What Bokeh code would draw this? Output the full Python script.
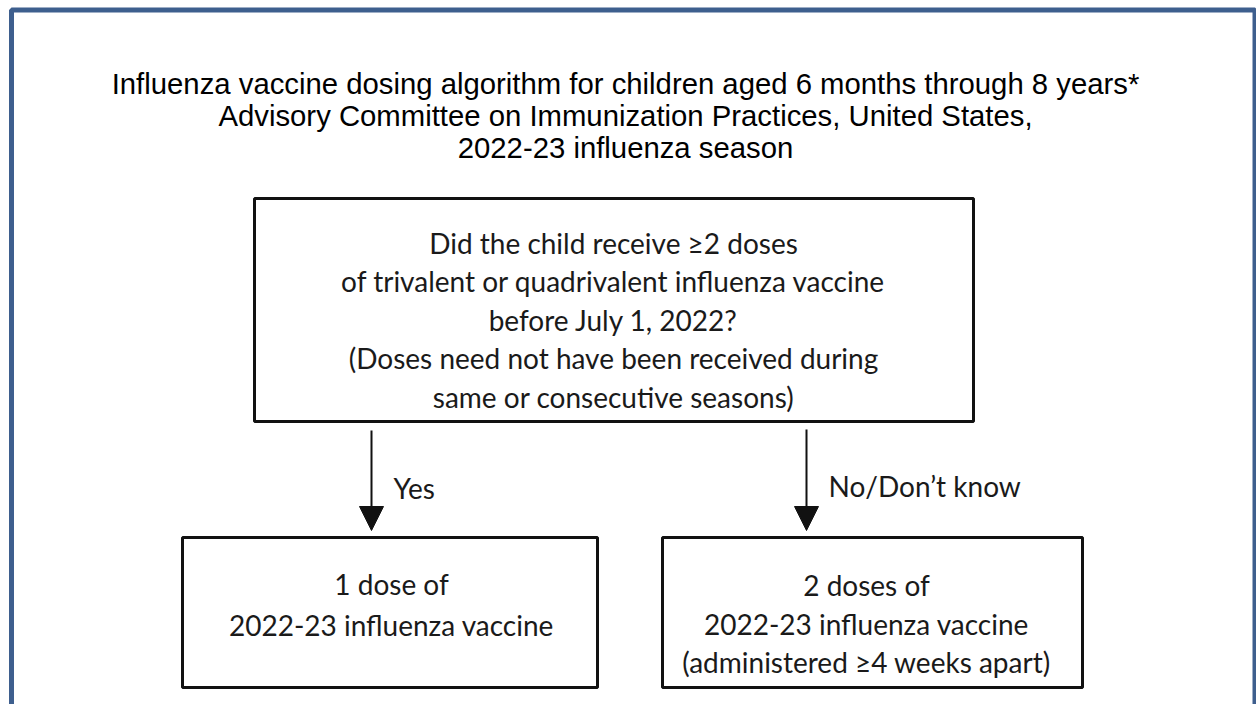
from bokeh.plotting import figure
from bokeh.models import Range1d, Arrow, NormalHead, ColumnDataSource
from bokeh.core.properties import value
from bokeh.embed import file_html
from bokeh.resources import INLINE

# ---- content ----
title_lines = [
    "Influenza vaccine dosing algorithm for children aged 6 months through 8 years*",
    "Advisory Committee on Immunization Practices, United States,",
    "2022-23 influenza season",
]
question_lines = [
    "Did the child receive \u22652 doses",
    "of trivalent or quadrivalent influenza vaccine",
    "before July 1, 2022?",
    "(Doses need not have been received during",
    "same or consecutive seasons)",
]
branch_labels = ["Yes", "No/Don\u2019t know"]
outcome_yes = ["1 dose of", "2022-23 influenza vaccine"]
outcome_no = ["2 doses of", "2022-23 influenza vaccine", "(administered \u22654 weeks apart)"]

W, H = 1256, 704
p = figure(width=W, height=H, output_backend="svg", toolbar_location=None,
           x_range=Range1d(0, W), y_range=Range1d(H, 0), min_border=0)
p.axis.visible = False
p.grid.visible = False
p.outline_line_color = None
p.background_fill_color = "white"
p.border_fill_color = "white"

# outer blue frame
p.quad(left=[11], right=[1254.5], top=[9.5], bottom=[740],
       fill_color=None, line_color="#3e5f8e", line_width=5)

# boxes
box_l = [254, 182, 662]
box_r = [973, 597, 1082]
box_t = [198, 537, 537]
box_b = [421, 687, 687]
p.quad(left=box_l, right=box_r, top=box_t, bottom=box_b,
       fill_color="white", line_color="#111111", line_width=3)

# arrows
for xa, y0, y1 in [(371, 430, 530), (806, 429, 530)]:
    p.add_layout(Arrow(end=NormalHead(size=24, fill_color="#111111", line_color="#111111", line_width=1),
                       x_start=xa, y_start=y0, x_end=xa, y_end=y1,
                       line_color="#111111", line_width=2))

def add_lines(lines, xc, baselines, font, size, align="center", color="#1a1a1a"):
    src = ColumnDataSource(dict(x=[xc] * len(lines), y=baselines, t=lines))
    p.text(x="x", y="y", text="t", source=src, text_font=value(font),
           text_font_size=f"{size}px", text_align=align, text_baseline="alphabetic",
           text_color=color)

# title
add_lines(title_lines, 625, [83, 115, 147], "Liberation Sans", 29.3, color="black")
# question
add_lines(question_lines, 613, [242, 280, 319, 357, 396], "Lato", 28)
# branch labels
add_lines([branch_labels[0]], 393, [487], "Lato", 28, align="left")
add_lines([branch_labels[1]], 828, [485], "Lato", 28, align="left")
# outcomes
add_lines(outcome_yes, 391, [583, 624], "Lato", 28)
add_lines(outcome_no, 866, [584, 623, 661], "Lato", 28)

open("out.html", "w").write(file_html(p, INLINE))
